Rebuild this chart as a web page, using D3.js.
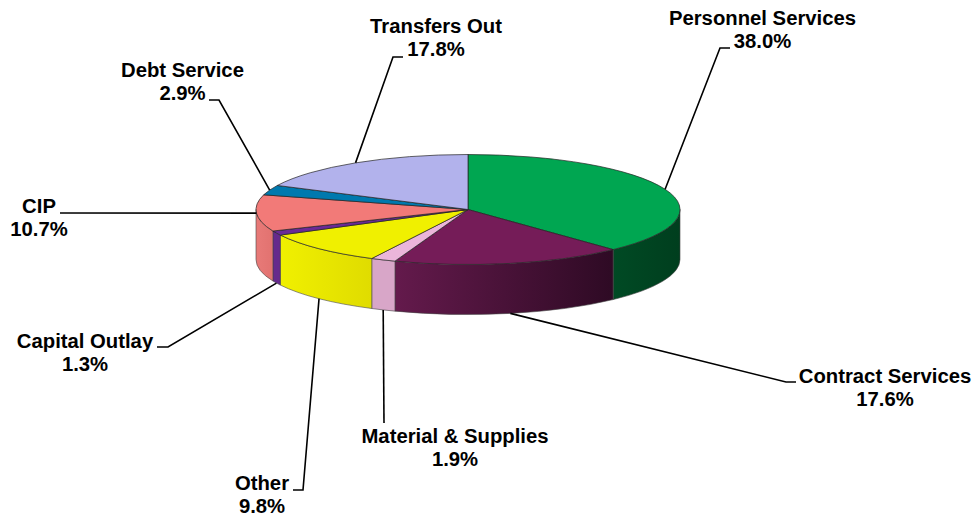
<!DOCTYPE html>
<html>
<head>
<meta charset="utf-8">
<script src="https://cdn.jsdelivr.net/npm/d3@7"></script>
<style>
  html, body { margin: 0; background: #fff; }
  text { font-family: "Liberation Sans", Arial, sans-serif; font-weight: bold; font-size: 20.3px; fill: #000; }
</style>
</head>
<body>
<svg id="chart" width="976" height="518"></svg>
<script>
// Valeurs
const categories = ["Personnel Services", "Contract Services", "Material & Supplies", "Other",
                    "Capital Outlay", "CIP", "Debt Service", "Transfers Out"]
const shares     = [38.0, 17.6, 1.9, 9.8, 1.3, 10.7, 2.9, 17.8]
const topColors  = ["#00a651", "#751c58", "#ebb5da", "#f0f000", "#6a2a96", "#f27a78", "#0079ae", "#b2b2ec"]
// degradé du flanc : gauche / droite
const wallLeft   = ["#004a24", "#641a4c", "#d8a6c8", "#f0f000", "#662a8c", "#e87a78", "#00689a", "#9a9ad0"]
const wallRight  = ["#003e1e", "#2e0a24", "#d8a6c8", "#e0dc00", "#662a8c", "#e27270", "#00689a", "#9a9ad0"]

// Étiquettes : position du texte, et coude de la ligne de rappel
const labelPos = [[762.5, 25], [885, 383], [455, 443], [262, 490], [85, 348], [39, 213], [182.5, 77], [436, 33]]
const elbows   = [[[720, 48], [730, 48]], [[786, 382], [796, 382]], [[384, 423]], [[303, 490], [293, 490]],
                  [[168, 347], [157, 347]], [[60, 213]], [[219, 100], [209, 100]], [[393, 57], [403, 57]]]
const anchorDepth = [0, 1, 1, 1, 1, 0, 0, 0] // ligne attachée au bas du flanc ?

const cx = 468, cy = 209.5, rx = 212, ry = 55, depth = 50

const svg  = d3.select("#chart")
const defs = svg.append("defs")
const pie  = d3.pie().sort(null)(shares)

// Point du bord de l'ellipse pour un angle mesuré depuis le haut
const edge = (a, dy = 0) => [cx + rx * Math.sin(a), cy - ry * Math.cos(a) + dy]

// Flanc visible : seulement la partie avant (angle entre 90° et 270°)
const wallPath = (a0, a1) => {
  const s = Math.max(a0, Math.PI / 2), e = Math.min(a1, Math.PI * 1.5)
  if (e <= s) return null
  const p0 = edge(s), p1 = edge(e)
  return `M${p0}A${rx},${ry} 0 0 1 ${p1}L${p1[0]},${p1[1] + depth}` +
         `A${rx},${ry} 0 0 0 ${p0[0]},${p0[1] + depth}Z`
}

pie.forEach((d, i) => {
  const path = wallPath(d.startAngle, d.endAngle)
  if (!path) return
  const s = Math.max(d.startAngle, Math.PI / 2), e = Math.min(d.endAngle, Math.PI * 1.5)
  const xa = edge(s)[0], xb = edge(e)[0]
  const g = defs.append("linearGradient").attr("id", `wall-${i}`)
    .attr("gradientUnits", "userSpaceOnUse")
    .attr("x1", Math.min(xa, xb)).attr("x2", Math.max(xa, xb)).attr("y1", 0).attr("y2", 0)
  g.append("stop").attr("offset", "0%").attr("stop-color", wallLeft[i])
  g.append("stop").attr("offset", "100%").attr("stop-color", wallRight[i])
  svg.append("path").attr("d", path).attr("fill", `url(#wall-${i})`)
    .attr("stroke", "#444").attr("stroke-width", 0.6)
})

// Dessus du camembert : d3.arc écrasé en ellipse
const arc = d3.arc().innerRadius(0).outerRadius(rx)
svg.append("g").attr("transform", `translate(${cx},${cy}) scale(1,${ry / rx})`)
  .selectAll("path").data(pie).join("path")
  .attr("d", arc)
  .attr("fill", (d, i) => topColors[i])
  .attr("stroke", "#222").attr("stroke-width", 0.7)
  .attr("vector-effect", "non-scaling-stroke")

// Lignes de rappel
const line = d3.line()
pie.forEach((d, i) => {
  const mid = (d.startAngle + d.endAngle) / 2
  const pts = [edge(mid, anchorDepth[i] ? depth : 0), ...elbows[i]]
  svg.append("path").attr("d", line(pts)).attr("fill", "none")
    .attr("stroke", "#000").attr("stroke-width", 1.6)
})

// Étiquettes
categories.forEach((c, i) => {
  const t = svg.append("text").attr("text-anchor", "middle")
    .attr("x", labelPos[i][0]).attr("y", labelPos[i][1])
  t.append("tspan").attr("x", labelPos[i][0]).text(c)
  t.append("tspan").attr("x", labelPos[i][0]).attr("dy", 23).text(shares[i].toFixed(1) + "%")
})
</script>
</body>
</html>
